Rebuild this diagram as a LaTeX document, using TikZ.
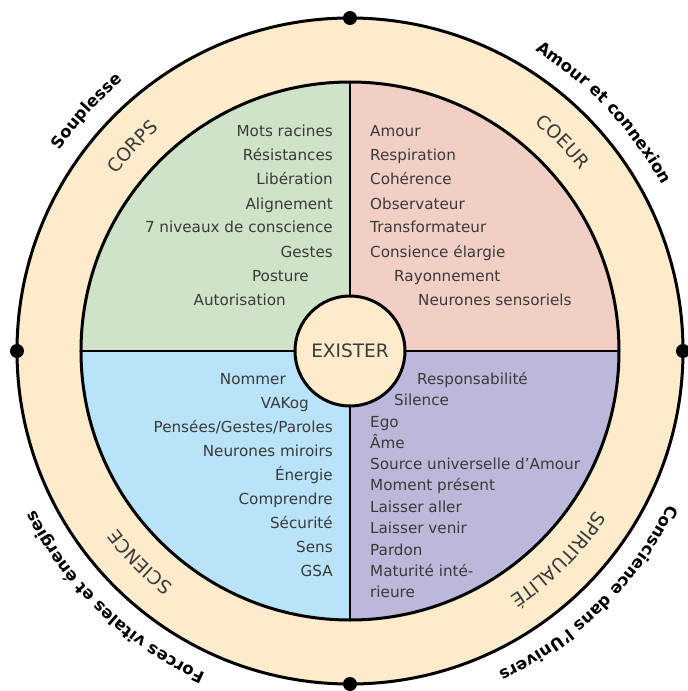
\documentclass[tikz,border=0pt]{standalone}
\usepackage{fontspec}
\setmainfont{DejaVu Sans}
\usetikzlibrary{decorations.text}
\definecolor{ringc}{HTML}{FDEBCB}
\definecolor{corpsc}{HTML}{CEE3C8}
\definecolor{coeurc}{HTML}{F2CFC4}
\definecolor{sciencec}{HTML}{B8E3F8}
\definecolor{spiritc}{HTML}{BBB8DA}
\definecolor{textgray}{HTML}{3A3A3A}
\newcommand\itemfnt{\fontsize{15.2}{18}\selectfont}
\newcommand\ringfnt{\fontsize{18.5}{20}\selectfont}
\newcommand\outfnt{\bfseries\fontsize{16.5}{18}\selectfont}
\tikzset{
  itemr/.style={anchor=base east, inner sep=0pt, font=\itemfnt, text=textgray},
  iteml/.style={anchor=base west, inner sep=0pt, font=\itemfnt, text=textgray},
  ringlabel/.style={decorate, decoration={text along path, text align=center, text color=textgray, text={|\ringfnt|#1}}},
  outlabel/.style={decorate, decoration={text along path, text align=center, text color=black, text={|\outfnt|#1}}},
  border/.style={draw=black, line width=3pt},
  dotmark/.style={fill=black}
}
\begin{document}
\begin{tikzpicture}[x=1pt,y=1pt]
\useasboundingbox (-350,-340) rectangle (338,351);
% outer ring
\fill[ringc] (0,0) circle[radius=333pt];
% quadrants
\fill[corpsc] (0,0) -- (90:269pt) arc[start angle=90, end angle=180, radius=269pt] -- cycle;
\fill[coeurc] (0,0) -- (0:269pt) arc[start angle=0, end angle=90, radius=269pt] -- cycle;
\fill[sciencec] (0,0) -- (180:269pt) arc[start angle=180, end angle=270, radius=269pt] -- cycle;
\fill[spiritc] (0,0) -- (270:269pt) arc[start angle=270, end angle=360, radius=269pt] -- cycle;
% cross lines
\coordinate (top) at (90:269pt);
\coordinate (bot) at (270:269pt);
\coordinate (lft) at (180:269pt);
\coordinate (rgt) at (0:269pt);
\draw[line width=2.6pt] (top) -- (bot);
\draw[line width=2.6pt] (lft) -- (rgt);
% circles
\draw[border] (0,0) circle[radius=269pt];
\draw[border] (0,0) circle[radius=333pt];
% dots
\fill[dotmark] (90:333pt) circle[radius=7pt];
\fill[dotmark] (180:333pt) circle[radius=7pt];
\fill[dotmark] (0:333pt) circle[radius=7pt];
\fill[dotmark] (270:333pt) circle[radius=7pt];
% center
\node[circle, border, fill=ringc, minimum size=110pt, inner sep=0pt, font=\fontsize{18.5}{20}\selectfont, text=textgray] (ex) at (0,0) {EXISTER};
% ring labels
\path[ringlabel=CORPS] (176.8:293pt) arc[start angle=176.8, end angle=96.8, radius=293pt];
\path[ringlabel=COEUR] (84.5:293pt) arc[start angle=84.5, end angle=4.5, radius=293pt];
\path[ringlabel=SCIENCE] (265.2:293pt) arc[start angle=265.2, end angle=185.2, radius=293pt];
\path[ringlabel=SPIRITUALITÉ] (355:293pt) arc[start angle=355, end angle=275, radius=293pt];
% outer labels
\path[outlabel=Souplesse] (177.7:353pt) arc[start angle=177.7, end angle=97.7, radius=353pt];
\path[outlabel=Amour et connexion] (83.2:353pt) arc[start angle=83.2, end angle=3.2, radius=353pt];
\path[outlabel=Forces vitales et énergies] (266.3:353pt) arc[start angle=266.3, end angle=186.3, radius=353pt];
\path[outlabel=Conscience dans l’Univers] (354.6:353pt) arc[start angle=354.6, end angle=274.6, radius=353pt];
% CORPS items
\node[itemr] (c1) at (-17,214) {Mots racines};
\node[itemr] (c2) at (-17,190) {Résistances};
\node[itemr] (c3) at (-17,166) {Libération};
\node[itemr] (c4) at (-17,142) {Alignement};
\node[itemr] (c5) at (-17,118) {7 niveaux de conscience};
\node[itemr] (c6) at (-17,94) {Gestes};
\node[itemr] (c7) at (-41,70) {Posture};
\node[itemr] (c8) at (-64,46) {Autorisation};
% COEUR items
\node[iteml] (h1) at (20,214) {Amour};
\node[iteml] (h2) at (20,190) {Respiration};
\node[iteml] (h3) at (20,166) {Cohérence};
\node[iteml] (h4) at (20,142) {Observateur};
\node[iteml] (h5) at (20,118) {Transformateur};
\node[iteml] (h6) at (20,94) {Consience élargie};
\node[iteml] (h7) at (44,70) {Rayonnement};
\node[iteml] (h8) at (68,46) {Neurones sensoriels};
% SCIENCE items
\node[itemr] (s1) at (-64,-33) {Nommer};
\node[itemr] (s2) at (-41,-57) {VAKog};
\node[itemr] (s3) at (-17,-81) {Pensées/Gestes/Paroles};
\node[itemr] (s4) at (-17,-105) {Neurones miroirs};
\node[itemr] (s5) at (-17,-129) {Énergie};
\node[itemr] (s6) at (-17,-153) {Comprendre};
\node[itemr] (s7) at (-17,-177) {Sécurité};
\node[itemr] (s8) at (-17,-201) {Sens};
\node[itemr] (s9) at (-17,-225) {GSA};
% SPIRITUALITE items
\node[iteml] (p1) at (67,-33) {Responsabilité};
\node[iteml] (p2) at (44,-54) {Silence};
\node[iteml] (p3) at (20,-76) {Ego};
\node[iteml] (p4) at (20,-97) {Âme};
\node[iteml] (p5) at (20,-118) {Source universelle d’Amour};
\node[iteml] (p6) at (20,-139.5) {Moment présent};
\node[iteml] (p7) at (20,-161) {Laisser aller};
\node[iteml] (p8) at (20,-182) {Laisser venir};
\node[iteml] (p9) at (20,-204) {Pardon};
\node[iteml] (p10) at (20,-225.5) {Maturité inté-};
\node[iteml] (p11) at (20,-246) {rieure};
\end{tikzpicture}
\end{document}
